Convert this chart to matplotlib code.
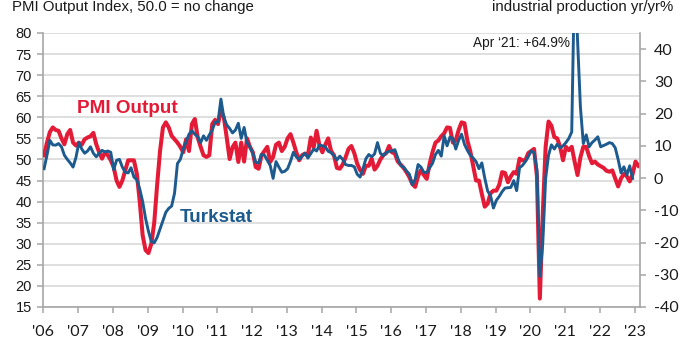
import matplotlib
matplotlib.use("Agg")
import matplotlib.pyplot as plt
import numpy as np

# ---------------- data ----------------
start_year = 2006
# PMI Output Index (left axis), monthly Jan 2006 - Feb 2023
pmi_output = [
    51, 54, 56.5, 57.6, 57, 56.8, 55, 53.6, 56, 57, 54, 53.3,            # 2006
    54, 53.5, 54.8, 55.2, 55.5, 56.3, 53.6, 51.7, 50.2, 51.7, 51, 49.8,  # 2007
    48.2, 45, 43.5, 45, 47.4, 49.8, 49.8, 49.8, 46.6, 40, 32, 28.5,      # 2008
    27.8, 30, 35, 44, 52, 57.6, 58.8, 57.6, 55.6, 54.8, 54, 53,          # 2009
    51.7, 54.8, 52, 58.4, 59.6, 55.2, 53, 51, 50.6, 51, 58.4, 59.4,      # 2010
    58.4, 61.6, 60, 55.2, 50.1, 52.9, 54, 49.4, 54, 49.5, 55, 53,        # 2011
    51.7, 48.2, 47.8, 51, 52, 53, 49.4, 50.6, 53.5, 54, 52, 53,          # 2012
    55, 56, 54, 51.7, 49.8, 51, 51.4, 51, 55.2, 52.9, 56.8, 53.3,        # 2013
    51.7, 53.5, 55, 52, 51, 48, 47.8, 48.8, 50.5, 52.5, 53.2, 51.5,      # 2014
    49, 47.5, 46.6, 48.5, 48.5, 50.2, 47.6, 48.5, 50, 51, 51.5, 53.2,    # 2015
    51.7, 51.4, 49.5, 48.8, 48, 47, 45.8, 44.2, 43.5, 46, 47.5, 46.3,    # 2016
    45.4, 49, 51.8, 54, 54.5, 55.5, 56.2, 57.6, 57.5, 54, 54.5, 57,      # 2017
    58.8, 58.6, 54.5, 52, 48.5, 45, 45, 41.8, 38.8, 39.5, 42, 42.6,      # 2018
    42.6, 44, 47, 46.8, 44.6, 46, 47, 46.6, 50.2, 49.8, 49.8, 51.5,      # 2019
    52, 52.5, 46, 17, 37, 53, 59, 58, 55.3, 55, 53, 49.8,                # 2020
    53, 52.2, 53, 49.5, 46.3, 50.5, 53, 53, 50.8, 49.1, 49.5, 48.8,      # 2021
    48.4, 48, 47.3, 47.1, 47.4, 45.5, 43.6, 45.5, 46.6, 46, 44.8, 46.5,  # 2022
    49.5, 48.5,                                                          # 2023
]
# Turkstat industrial production yr/yr % (right axis), monthly Jan 2006 - Dec 2022
turkstat_ip = [
    2.9, 7.1, 11.7, 10.3, 10.2, 10.7, 9.7, 7.1, 5.8, 4.7, 3.4, 6.4,            # 2006
    11.0, 9.0, 7.7, 8.4, 9.7, 7.7, 6.6, 7.7, 8.6, 8.1, 8.4, 8.0,               # 2007
    2.6, 5.5, 5.8, 3.4, 1.8, 1.6, 3.2, 0.3, -0.5, -3.4, -7.3, -12.5,           # 2008
    -16.5, -19.7, -20.1, -18.4, -15.8, -13.2, -10.6, -9.4, -8.7, -4.7, 4.5, 5.8,  # 2009
    9.0, 11.3, 13.6, 14.7, 13.6, 12.8, 11.0, 13.1, 11.7, 13.4, 14.9, 17.3,     # 2010
    17.5, 24.5, 18.8, 16.5, 15.4, 14.0, 14.9, 17.0, 12.3, 15.7, 11.0, 9.7,     # 2011
    7.7, 4.9, 4.7, 7.3, 7.1, 5.5, 3.9, -0.1, 5.1, 3.4, 1.8, 2.1,               # 2012
    2.9, 5.2, 8.0, 6.6, 5.8, 6.8, 7.7, 6.2, 7.6, 9.0, 8.4, 10.3,               # 2013
    10.0, 9.7, 8.3, 7.9, 6.9, 5.6, 6.8, 5.8, 4.2, 3.9, 3.9, 3.5,               # 2014
    1.2, 0.3, 2.9, 6.0, 7.3, 6.6, 7.5, 11.0, 7.7, 6.9, 7.9, 8.3,               # 2015
    8.4, 8.8, 6.2, 3.9, 3.4, 2.2, 1.2, -2.1, -0.4, 4.2, 3.4, 1.8,              # 2016
    1.7, 3.2, 4.6, 7.3, 8.6, 6.8, 13.1, 10.0, 12.7, 12.3, 9.0, 11.7,           # 2017
    13.6, 10.5, 8.6, 7.1, 6.2, 5.1, 2.9, 4.7, 0.0, -4.0, -5.5, -9.3,           # 2018
    -6.9, -5.7, -4.2, -3.1, -3.0, -2.9, -0.8, -3.9, 3.2, 3.9, 5.1, 6.6,        # 2019
    8.4, 7.9, 2.5, -30.5, -20.4, -0.1, 7.1, 10.3, 9.0, 10.5, 9.4, 10.0,        # 2020
    11.0, 12.3, 14.3, 64.9, 43.0, 22.0, 10.7, 13.4, 9.7, 11.0, 11.8, 12.8,     # 2021
    9.7, 10.1, 10.5, 11.0, 10.7, 9.4, 5.8, 1.6, 3.5, 0.9, 3.8, -0.1,           # 2022
]
year_ticks = list(range(2006, 2024))
year_labels = ["'06", "'07", "'08", "'09", "'10", "'11", "'12", "'13", "'14",
               "'15", "'16", "'17", "'18", "'19", "'20", "'21", "'22", "'23"]
left_ticks = list(range(15, 81, 5))
right_ticks = list(range(-40, 41, 10))

# ---------------- style ----------------
RED = "#E31B37"
BLUE = "#1D5A8E"
GRID = "#D9D9D9"
SPINE = "#A6A6A6"
TXT = "#1A1A1A"
FONT = "Liberation Sans"
TFONT = "Lato"

x_pmi = start_year + (np.arange(len(pmi_output)) + 0.25) / 12.0
x_ip = start_year + (np.arange(len(turkstat_ip)) + 0.25) / 12.0

fig = plt.figure(figsize=(6.87, 3.48), dpi=100)
ax = fig.add_axes([43 / 687, 1 - 307 / 348, 597 / 687, 274 / 348])
ax2 = ax.twinx()

ax.set_xlim(2005.99, 2023.15)
ax.set_ylim(15, 80)
ax2.set_ylim(-40, 45)

ax.set_yticks(left_ticks)
ax.set_yticklabels([str(v) for v in left_ticks], fontfamily=FONT, fontsize=10.5, color=TXT)
ax2.set_yticks(right_ticks)
ax2.set_yticklabels([str(v) for v in right_ticks], fontfamily=TFONT, fontsize=11.5, color=TXT)
ax.set_xticks(year_ticks)
ax.set_xticklabels(year_labels, fontfamily=TFONT, fontsize=11.5, color=TXT)

ax.grid(axis="y", color=GRID, linewidth=1.2)
ax.grid(axis="x", visible=False)
ax.set_axisbelow(True)

for a in (ax, ax2):
    for s in a.spines.values():
        s.set_visible(False)
ax.spines["left"].set_visible(True)
ax.spines["bottom"].set_visible(True)
ax2.spines["right"].set_visible(True)
for s in (ax.spines["left"], ax.spines["bottom"], ax2.spines["right"]):
    s.set_color(SPINE)
    s.set_linewidth(1.2)

ax.tick_params(axis="y", direction="out", length=4, width=1.1, color=SPINE, pad=4)
ax.tick_params(axis="x", direction="out", length=4, width=1.1, color=SPINE, pad=9)
ax2.tick_params(axis="y", direction="out", length=4, width=1.1, color=SPINE, pad=6)

ax.plot(x_pmi, pmi_output, color=RED, linewidth=2.9, solid_joinstyle="round", zorder=3)
ax2.plot(x_ip, turkstat_ip, color=BLUE, linewidth=2.1, solid_joinstyle="round", zorder=3)

# ---------------- texts ----------------
fig.text(12 / 687, 1 - 11.5 / 348, "PMI Output Index, 50.0 = no change",
         fontfamily=FONT, fontsize=10.8, color=TXT, ha="left", va="baseline")
fig.text(673 / 687, 1 - 11.5 / 348, "industrial production yr/yr%",
         fontfamily=FONT, fontsize=10.8, color=TXT, ha="right", va="baseline")
fig.text(570 / 687, 1 - 47.3 / 348, "Apr \u201821: +64.9%",
         fontfamily=FONT, fontsize=9.8, color=TXT, ha="right", va="baseline")
fig.text(77 / 687, 1 - 112.7 / 348, "PMI Output", fontfamily=FONT, fontsize=13.6,
         fontweight="bold", color=RED, ha="left", va="baseline")
fig.text(180 / 687, 1 - 221.7 / 348, "Turkstat", fontfamily=FONT, fontsize=13.6,
         fontweight="bold", color=BLUE, ha="left", va="baseline")

fig.savefig("out.png", dpi=100)
